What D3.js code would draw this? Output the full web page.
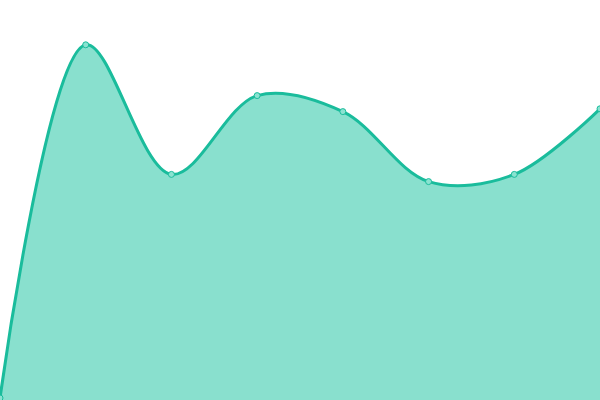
<!DOCTYPE html>
<html>
<head>
<meta charset="utf-8">
<script src="https://cdn.jsdelivr.net/npm/d3@7"></script>
<style>
  body { margin: 0; background: #fff; }
</style>
</head>
<body>
<div id="chart"></div>
<script>
var width = 600;
var height = 400;

var categories = [0, 1, 2, 3, 4, 5, 6, 7];
var values = [0.5, 88.8, 56.4, 76.1, 72.1, 54.6, 56.4, 72.8];

var x = d3.scaleLinear()
    .domain([0, categories.length - 1])
    .range([0, width]);

var y = d3.scaleLinear()
    .domain([0, 100])
    .range([height, 0]);

var svg = d3.select("#chart")
    .append("svg")
    .attr("width", width)
    .attr("height", height);

var data = categories.map(function(c, i) {
    return { c: c, v: values[i] };
});

var curve = d3.curveCatmullRom;

var area = d3.area()
    .x(function(d) { return x(d.c); })
    .y0(height)
    .y1(function(d) { return y(d.v); })
    .curve(curve);

var line = d3.line()
    .x(function(d) { return x(d.c); })
    .y(function(d) { return y(d.v); })
    .curve(curve);

svg.append("path")
    .datum(data)
    .attr("d", area)
    .attr("fill", "#89e0ce");

svg.append("path")
    .datum(data)
    .attr("d", line)
    .attr("fill", "none")
    .attr("stroke", "#1abc9c")
    .attr("stroke-width", 3);

//points
svg.selectAll("circle")
    .data(data)
    .enter()
    .append("circle")
    .attr("cx", function(d) { return x(d.c); })
    .attr("cy", function(d) { return y(d.v); })
    .attr("r", 3)
    .attr("fill", "#8ae3d1")
    .attr("stroke", "#1abc9c")
    .attr("stroke-width", 1);
</script>
</body>
</html>
